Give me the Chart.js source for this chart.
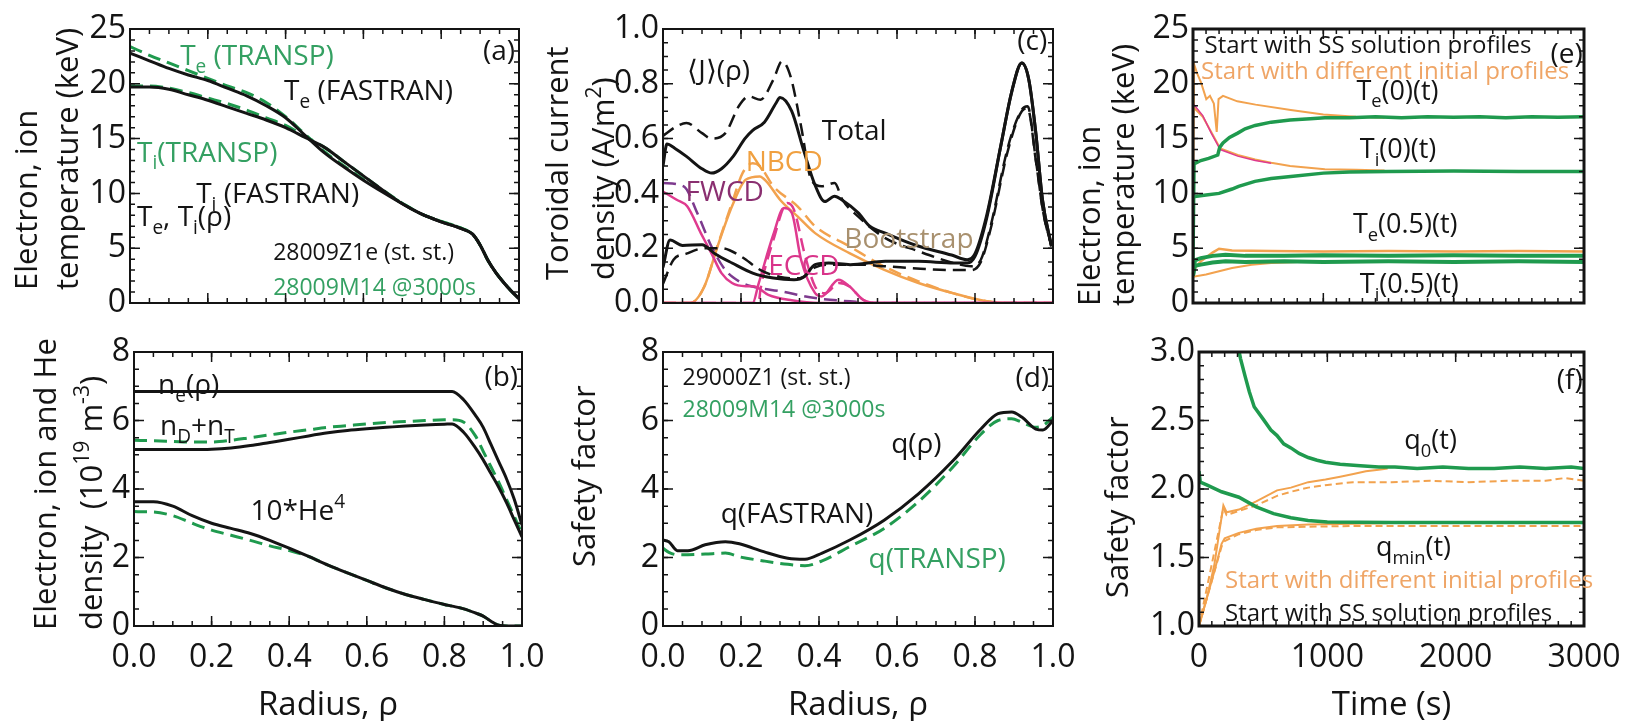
<!DOCTYPE html>
<html lang="en">
<head>
<meta charset="UTF-8">
<title>Profiles and time evolution</title>
<script src="https://cdn.jsdelivr.net/npm/chart.js"></script>
<style>
  body { margin: 0; background: #fff; width: 1627px; height: 721px; position: relative; overflow: hidden; }
  canvas { position: absolute; }
</style>
</head>
<body>
<canvas id="pa"></canvas>
<canvas id="pb"></canvas>
<canvas id="pc"></canvas>
<canvas id="pd"></canvas>
<canvas id="pe"></canvas>
<canvas id="pf"></canvas>
<script>
// ---- (a) temperatures vs radius ----
const rhoA = [0, 0.05, 0.1, 0.15, 0.2, 0.25, 0.3, 0.35, 0.4, 0.45, 0.5, 0.55, 0.6, 0.65, 0.7, 0.75, 0.8, 0.85, 0.88, 0.9, 0.92, 0.94, 0.96, 0.98, 1.0];
const teFastran = [22.8, 22.1, 21.4, 20.8, 20.3, 19.6, 18.9, 18.0, 16.9, 15.3, 13.7, 12.4, 11.2, 10.1, 9.05, 8.1, 7.4, 6.8, 6.3, 5.3, 3.9, 2.8, 1.9, 1.1, 0.4];
const tiFastran = [19.7, 19.7, 19.5, 19.0, 18.5, 17.9, 17.3, 16.7, 16.0, 15.1, 14.2, 12.9, 11.6, 10.3, 9.05, 8.1, 7.4, 6.8, 6.3, 5.3, 3.9, 2.8, 1.9, 1.1, 0.4];
const teTransp = [23.4, 22.6, 21.9, 21.2, 20.5, 19.8, 19.2, 18.3, 17.0, 15.4, 13.8, 12.5, 11.3, 10.2, 9.1, 8.1, 7.45, 6.85, 6.3, 5.3, 3.9, 2.8, 1.9, 1.1, 0.4];
const tiTransp = [19.8, 19.8, 19.6, 19.2, 18.7, 18.2, 17.6, 16.9, 16.2, 15.2, 14.2, 12.9, 11.6, 10.3, 9.1, 8.1, 7.45, 6.85, 6.3, 5.3, 3.9, 2.8, 1.9, 1.1, 0.4];

// ---- (b) densities vs radius ----
const rhoB = [0, 0.05, 0.1, 0.15, 0.2, 0.25, 0.3, 0.35, 0.4, 0.45, 0.5, 0.55, 0.6, 0.65, 0.7, 0.75, 0.8, 0.82, 0.85, 0.88, 0.9, 0.92, 0.94, 0.96, 0.98, 1.0];
const neFastran = [6.85, 6.85, 6.85, 6.85, 6.85, 6.85, 6.85, 6.85, 6.85, 6.85, 6.85, 6.85, 6.85, 6.85, 6.85, 6.85, 6.85, 6.85, 6.6, 6.15, 5.8, 5.3, 4.8, 4.3, 3.7, 2.95];
const ndtFastran = [5.15, 5.15, 5.15, 5.15, 5.16, 5.2, 5.27, 5.36, 5.45, 5.55, 5.64, 5.71, 5.76, 5.8, 5.84, 5.87, 5.89, 5.9, 5.65, 5.2, 4.85, 4.45, 4.05, 3.6, 3.1, 2.6];
const ndtTransp = [5.42, 5.41, 5.39, 5.37, 5.37, 5.42, 5.5, 5.58, 5.66, 5.73, 5.8, 5.85, 5.9, 5.94, 5.97, 6.0, 6.02, 6.02, 5.95, 5.55, 5.1, 4.65, 4.2, 3.7, 3.2, 2.7];
const heFastran = [3.63, 3.63, 3.5, 3.22, 3.0, 2.85, 2.7, 2.5, 2.27, 2.03, 1.78, 1.55, 1.33, 1.11, 0.92, 0.77, 0.63, 0.58, 0.5, 0.38, 0.29, 0.14, 0.02, 0, 0, 0];
const heTransp = [3.34, 3.33, 3.22, 3.0, 2.8, 2.65, 2.5, 2.34, 2.2, 2.03, 1.78, 1.55, 1.33, 1.11, 0.92, 0.77, 0.63, 0.58, 0.5, 0.38, 0.29, 0.14, 0.02, 0, 0, 0];

// ---- (c) current density components ----
const jTotRho = [0, 0.01, 0.03, 0.06, 0.1, 0.125, 0.15, 0.18, 0.21, 0.23, 0.26, 0.29, 0.3, 0.33, 0.36, 0.39, 0.415, 0.44, 0.46, 0.5, 0.53, 0.57, 0.65, 0.74, 0.78, 0.8, 0.83, 0.867, 0.894, 0.92, 0.938, 0.956, 0.973, 0.996];
const jTot = [0.5, 0.58, 0.565, 0.535, 0.49, 0.474, 0.49, 0.535, 0.6, 0.63, 0.66, 0.73, 0.75, 0.7, 0.56, 0.43, 0.37, 0.39, 0.375, 0.33, 0.28, 0.255, 0.21, 0.175, 0.158, 0.18, 0.32, 0.58, 0.77, 0.876, 0.815, 0.62, 0.377, 0.207];
const jTotDRho = [0, 0.035, 0.06, 0.1, 0.124, 0.16, 0.195, 0.22, 0.25, 0.283, 0.305, 0.327, 0.354, 0.38, 0.407, 0.44, 0.46, 0.5, 0.57, 0.655, 0.745, 0.79, 0.815, 0.84, 0.885, 0.92, 0.935, 0.956, 0.975, 0.996];
const jTotD = [0.61, 0.645, 0.657, 0.62, 0.6, 0.62, 0.72, 0.754, 0.742, 0.815, 0.882, 0.827, 0.645, 0.45, 0.426, 0.438, 0.377, 0.316, 0.237, 0.189, 0.146, 0.134, 0.158, 0.28, 0.572, 0.706, 0.718, 0.523, 0.33, 0.207];
const jBsRho = [0, 0.018, 0.05, 0.1, 0.133, 0.177, 0.23, 0.283, 0.336, 0.363, 0.39, 0.425, 0.48, 0.57, 0.655, 0.745, 0.78, 0.8, 0.83, 0.867, 0.894, 0.92, 0.938, 0.956, 0.973, 0.996];
const jBs = [0.13, 0.23, 0.21, 0.213, 0.18, 0.146, 0.109, 0.091, 0.085, 0.097, 0.14, 0.146, 0.14, 0.152, 0.152, 0.146, 0.146, 0.17, 0.31, 0.58, 0.77, 0.876, 0.815, 0.62, 0.377, 0.207];
const jBsDRho = [0, 0.027, 0.06, 0.106, 0.15, 0.2, 0.25, 0.3, 0.35, 0.39, 0.43, 0.5, 0.57, 0.66, 0.745, 0.79, 0.815, 0.84, 0.885, 0.92, 0.935, 0.956, 0.975, 0.996];
const jBsD = [0.07, 0.158, 0.18, 0.2, 0.2, 0.17, 0.12, 0.095, 0.09, 0.13, 0.14, 0.14, 0.134, 0.125, 0.12, 0.12, 0.15, 0.27, 0.56, 0.7, 0.71, 0.52, 0.33, 0.21];
const jNbRho = [0, 0.07, 0.106, 0.14, 0.177, 0.212, 0.248, 0.265, 0.3, 0.345, 0.39, 0.478, 0.566, 0.655, 0.743, 0.83, 0.876, 1.0];
const jNb = [0, 0, 0.06, 0.207, 0.353, 0.45, 0.462, 0.444, 0.377, 0.316, 0.255, 0.182, 0.122, 0.073, 0.036, 0.006, 0, 0];
const jNbDRho = [0, 0.07, 0.106, 0.14, 0.177, 0.204, 0.23, 0.248, 0.283, 0.345, 0.39, 0.478, 0.566, 0.655, 0.743, 0.83, 0.876, 1.0];
const jNbD = [0, 0, 0.06, 0.21, 0.365, 0.474, 0.51, 0.5, 0.426, 0.353, 0.28, 0.207, 0.134, 0.079, 0.036, 0.006, 0, 0];
const jFwRho = [0, 0.035, 0.062, 0.097, 0.124, 0.15, 0.177, 0.212, 0.235, 0.27, 0.33, 0.4, 1.0];
const jFw = [0.407, 0.377, 0.353, 0.255, 0.182, 0.109, 0.073, 0.061, 0.06, 0.03, 0.01, 0, 0];
const jFwDRho = [0, 0.053, 0.088, 0.124, 0.16, 0.195, 0.23, 0.3, 0.39, 0.48, 0.55, 1.0];
const jFwD = [0.438, 0.426, 0.328, 0.207, 0.12, 0.079, 0.06, 0.043, 0.018, 0.006, 0, 0];
const jEcRho = [0, 0.23, 0.245, 0.283, 0.31, 0.33, 0.354, 0.39, 0.407, 0.45, 0.478, 0.513, 0.55, 1.0];
const jEc = [0, 0, 0.07, 0.25, 0.347, 0.33, 0.158, 0.036, 0.024, 0.085, 0.061, 0.012, 0, 0];
const jEcDRho = [0, 0.245, 0.25, 0.283, 0.319, 0.336, 0.363, 0.39, 0.416, 0.451, 0.478, 0.513, 0.55, 1.0];
const jEcD = [0, 0, 0.05, 0.23, 0.365, 0.34, 0.18, 0.06, 0.036, 0.073, 0.06, 0.012, 0, 0];

// ---- (d) safety factor vs radius ----
const rhoD = [0, 0.015, 0.037, 0.064, 0.108, 0.16, 0.196, 0.258, 0.32, 0.364, 0.408, 0.479, 0.567, 0.655, 0.744, 0.815, 0.859, 0.894, 0.92, 0.956, 0.974, 1.0];
const qFastran = [2.51, 2.46, 2.2, 2.2, 2.37, 2.46, 2.4, 2.17, 1.98, 1.95, 2.13, 2.51, 3.09, 3.86, 4.83, 5.75, 6.2, 6.25, 6.1, 5.75, 5.72, 6.0];
const qTransp = [2.27, 2.15, 2.08, 2.08, 2.1, 2.13, 2.02, 1.9, 1.8, 1.76, 1.9, 2.32, 2.85, 3.63, 4.65, 5.6, 6.0, 6.05, 5.95, 5.8, 5.85, 6.1];

// ---- (e) temperatures vs time ----
const eTe0GreenT = [0, 8, 60, 120, 190, 205, 230, 280, 343, 400, 477, 600, 745, 900, 1012, 1200, 1400, 1600, 1800, 2000, 2200, 2400, 2600, 2800, 3000];
const eTe0Green = [4.0, 12.7, 13.0, 13.2, 13.5, 14.2, 14.6, 15.1, 15.5, 15.9, 16.2, 16.5, 16.7, 16.8, 16.9, 16.9, 17.0, 16.9, 17.0, 16.95, 17.0, 16.9, 17.0, 16.95, 17.0];
const eTi0GreenT = [0, 100, 200, 300, 350, 475, 600, 750, 1000, 1200, 1500, 2000, 2500, 3000];
const eTi0Green = [9.7, 9.85, 10.0, 10.4, 10.65, 11.1, 11.35, 11.55, 11.85, 11.95, 12.0, 12.05, 12.0, 12.0];
const eEdgeGreenT = [0, 15, 60, 150, 250, 400, 700, 1000, 1500, 2000, 2500, 3000];
const eTe05Green = [2.5, 3.9, 4.1, 4.3, 4.4, 4.3, 4.3, 4.35, 4.3, 4.35, 4.3, 4.3];
const eTi05Green = [2.5, 3.4, 3.5, 3.7, 3.8, 3.75, 3.8, 3.75, 3.8, 3.75, 3.8, 3.75];
const eTe0OrangeT = [0, 8, 30, 62, 102, 130, 160, 182, 196, 230, 340, 480, 750, 1000, 1250, 1470];
const eTe0Orange = [6.5, 21.8, 21.0, 20.1, 18.6, 18.9, 18.2, 15.6, 18.6, 18.9, 18.4, 18.1, 17.6, 17.2, 17.0, 16.9];
const eTi0OrangeT = [0, 75, 140, 209, 343, 477, 600, 745, 1012, 1250, 1470];
const eTi0Orange = [17.9, 17.0, 15.6, 14.1, 13.5, 13.1, 12.8, 12.5, 12.2, 12.15, 12.1];
const eTi0MagentaT = [0, 75, 140, 209, 343, 477, 600];
const eTi0Magenta = [18.2, 17.1, 15.5, 14.0, 13.4, 13.0, 12.75];
const eTe05OrangeT = [0, 60, 150, 200, 300, 600, 1000, 1500, 2000, 2500, 3000];
const eTe05Orange = [3.0, 3.8, 4.6, 4.95, 4.8, 4.75, 4.7, 4.75, 4.7, 4.75, 4.7];
const eTi05OrangeT = [0, 100, 200, 300, 450, 600, 800, 1100, 1470];
const eTi05Orange = [2.4, 2.6, 2.9, 3.2, 3.5, 3.65, 3.75, 3.8, 3.8];

// ---- (f) safety factor vs time ----
const fQ0GreenT = [250, 300, 324, 360, 392, 430, 500, 560, 608, 660, 716, 780, 851, 920, 986, 1100, 1257, 1400, 1527, 1700, 1900, 2100, 2300, 2500, 2700, 2900, 3000];
const fQ0Green = [3.2, 3.06, 2.95, 2.82, 2.71, 2.6, 2.51, 2.43, 2.39, 2.33, 2.3, 2.26, 2.23, 2.21, 2.195, 2.18, 2.17, 2.16, 2.16, 2.15, 2.16, 2.15, 2.15, 2.16, 2.15, 2.16, 2.15];
const fQminGreenT = [0, 10, 60, 176, 311, 446, 581, 716, 850, 1000, 1500, 2000, 2500, 3000];
const fQminGreen = [2.13, 2.05, 2.03, 1.98, 1.94, 1.87, 1.82, 1.79, 1.77, 1.76, 1.755, 1.755, 1.755, 1.755];
const fQ0OrangeT = [0, 60, 120, 190, 215, 311, 446, 608, 716, 851, 986, 1100, 1203, 1300, 1400, 1470];
const fQ0Orange = [1.0, 1.2, 1.45, 1.88, 1.83, 1.85, 1.91, 1.99, 2.01, 2.05, 2.07, 2.09, 2.11, 2.13, 2.14, 2.15];
const fQ0OrangeDT = [0, 190, 215, 311, 446, 608, 716, 851, 1000, 1200, 1500, 1800, 2100, 2400, 2700, 2850, 3000];
const fQ0OrangeD = [1.0, 1.86, 1.81, 1.84, 1.88, 1.95, 1.98, 2.01, 2.03, 2.05, 2.05, 2.06, 2.05, 2.06, 2.06, 2.08, 2.06];
const fQminOrangeT = [0, 60, 120, 176, 200, 311, 446, 608, 851, 1100, 1470];
const fQminOrange = [1.0, 1.2, 1.4, 1.6, 1.64, 1.68, 1.71, 1.73, 1.74, 1.745, 1.75];
const fQminOrangeDT = [0, 176, 200, 311, 446, 608, 851, 1200, 1600, 2000, 2400, 2800, 3000];
const fQminOrangeD = [1.0, 1.58, 1.62, 1.67, 1.7, 1.72, 1.725, 1.73, 1.73, 1.73, 1.73, 1.73, 1.73];

// ---- drawing ----
const FONT = '"Open Sans", "Noto Sans", sans-serif';
const BLACK = '#141414', GREEN = '#1f9a4e', GREEN_TXT = '#34a062', ORANGE = '#f2a24e', ORANGE_TXT = '#efa566';
const MAGENTA = '#df3a8f', PURPLE = '#7d3a8e';
const ML = 130, TP = 25, RP = 60, MB = 95;
const TICK = 32, XTITLE = 33, NOTE = 28, SMALL = 23;

Chart.defaults.font.family = FONT;

function line(xs, ys, color, extra) {
    return Object.assign({
        data: xs.map((x, i) => ({ x: x, y: ys[i] })),
        borderColor: color,
        borderWidth: 3,
        pointRadius: 0,
        fill: false,
        cubicInterpolationMode: 'monotone'
    }, extra);
}
const dashed = (w) => ({ borderDash: [13, 7], borderWidth: w || 3 });
const raw = (w) => ({ borderWidth: w, cubicInterpolationMode: 'default' });

// rich text: parts = [[text, ''|'b'|'p'], ...]
function drawRich(ctx, parts, x, y, size, color, align) {
    if (typeof parts === 'string') parts = [[parts, '']];
    const sz = k => k ? size * 0.68 : size;
    let w = 0;
    parts.forEach(([t, k]) => { ctx.font = sz(k) + 'px ' + FONT; w += ctx.measureText(t).width; });
    let cx = align === 'right' ? x - w : align === 'center' ? x - w / 2 : x;
    ctx.fillStyle = color;
    ctx.textBaseline = 'alphabetic';
    parts.forEach(([t, k]) => {
        ctx.font = sz(k) + 'px ' + FONT;
        const dy = k === 'b' ? size * 0.28 : k === 'p' ? -size * 0.42 : 0;
        ctx.fillText(t, cx, y + dy);
        cx += ctx.measureText(t).width;
    });
}

function makePanel(p) {
    const cv = document.getElementById(p.id);
    const offX = p.L - ML, offY = p.T - TP;
    cv.width = p.R - p.L + ML + RP;
    cv.height = p.B - p.T + TP + MB;
    cv.style.left = offX + 'px';
    cv.style.top = offY + 'px';

    const extras = {
        id: 'extras' + p.id,
        afterDatasetsDraw(chart) {
            const { ctx, chartArea: a, scales: { x, y } } = chart;
            ctx.save();
            // inward ticks on all four sides
            ctx.strokeStyle = BLACK;
            ctx.lineWidth = 1.5;
            const marks = (sc, step, len, horiz) => {
                const n = Math.round((sc.max - sc.min) / step);
                for (let i = 0; i <= n; i++) {
                    const q = sc.getPixelForValue(sc.min + i * step);
                    ctx.beginPath();
                    if (horiz) {
                        ctx.moveTo(q, a.bottom); ctx.lineTo(q, a.bottom - len);
                        ctx.moveTo(q, a.top); ctx.lineTo(q, a.top + len);
                    } else {
                        ctx.moveTo(a.left, q); ctx.lineTo(a.left + len, q);
                        ctx.moveTo(a.right, q); ctx.lineTo(a.right - len, q);
                    }
                    ctx.stroke();
                }
            };
            marks(x, p.xMinor, 5, true);
            marks(x, p.xStep, 10, true);
            marks(y, p.yMinor, 5, false);
            marks(y, p.yStep, 10, false);
            ctx.lineWidth = p.frame || 2;
            ctx.strokeRect(a.left, a.top, a.right - a.left, a.bottom - a.top);

            // in-plot labels
            p.notes.forEach(n => {
                drawRich(ctx, n.t, x.getPixelForValue(n.x), y.getPixelForValue(n.y),
                    n.size || NOTE, n.color || BLACK, n.align);
            });

            // axis titles (page coordinates)
            p.yTitle.forEach(l => {
                ctx.save();
                ctx.translate(l.x - offX, l.y0 - offY);
                ctx.rotate(-Math.PI / 2);
                drawRich(ctx, l.t, 0, 31 * 0.36, 31, BLACK, 'left');
                ctx.restore();
            });
            if (p.xTitle) {
                drawRich(ctx, p.xTitle, (a.left + a.right) / 2, 703 - offY + XTITLE * 0.36, XTITLE, BLACK, 'center');
            }
            ctx.restore();
        }
    };

    return new Chart(cv, {
        type: 'line',
        data: { datasets: p.datasets },
        options: {
            responsive: false,
            animation: false,
            events: [],
            layout: { padding: { left: 0, top: TP, right: RP, bottom: 0 } },
            plugins: { legend: { display: false }, tooltip: { enabled: false } },
            scales: {
                x: {
                    type: 'linear', min: p.xMin, max: p.xMax,
                    grid: { display: false, drawTicks: false },
                    border: { display: false },
                    ticks: {
                        display: !!p.xTitle, stepSize: p.xStep, autoSkip: false, maxRotation: 0,
                        padding: 13, color: BLACK, font: { size: TICK, family: FONT },
                        callback: p.xFmt
                    },
                    afterFit: s => { s.height = MB; }
                },
                y: {
                    type: 'linear', min: p.yMin, max: p.yMax,
                    grid: { display: false, drawTicks: false },
                    border: { display: false },
                    ticks: {
                        stepSize: p.yStep, autoSkip: false, padding: 4, color: BLACK,
                        font: { size: TICK, family: FONT }, callback: p.yFmt
                    },
                    afterFit: s => { s.width = ML; }
                }
            }
        },
        plugins: [extras]
    });
}

const f1 = v => v.toFixed(1);
const f0 = v => String(Math.round(v));

makePanel({
    id: 'pa', L: 130, T: 29, R: 519, B: 303,
    xMin: 0, xMax: 1, xStep: 0.2, xMinor: 0.05, xFmt: f1,
    yMin: 0, yMax: 25, yStep: 5, yMinor: 1, yFmt: f0,
    datasets: [
        line(rhoA, teFastran, BLACK),
        line(rhoA, tiFastran, BLACK),
        line(rhoA, teTransp, GREEN, dashed()),
        line(rhoA, tiTransp, GREEN, dashed())
    ],
    notes: [
        { t: [['T', ''], ['e', 'b'], [' (TRANSP)', '']], x: 0.129, y: 21.7, color: GREEN_TXT },
        { t: [['T', ''], ['e', 'b'], [' (FASTRAN)', '']], x: 0.396, y: 18.5 },
        { t: [['T', ''], ['i', 'b'], ['(TRANSP)', '']], x: 0.018, y: 12.9, color: GREEN_TXT },
        { t: [['T', ''], ['i', 'b'], [' (FASTRAN)', '']], x: 0.17, y: 9.1 },
        { t: [['T', ''], ['e', 'b'], [', T', ''], ['i', 'b'], ['(ρ)', '']], x: 0.018, y: 7.0 },
        { t: '28009Z1e (st. st.)', x: 0.368, y: 3.95, size: SMALL },
        { t: '28009M14 @3000s', x: 0.368, y: 0.76, size: SMALL, color: GREEN_TXT },
        { t: '(a)', x: 0.99, y: 22.2, align: 'right' }
    ],
    yTitle: [
        { t: 'Electron, ion', x: 26, y0: 290 },
        { t: 'temperature (keV)', x: 67, y0: 290 }
    ]
});

makePanel({
    id: 'pb', L: 134, T: 352, R: 522, B: 626,
    xMin: 0, xMax: 1, xStep: 0.2, xMinor: 0.05, xFmt: f1,
    yMin: 0, yMax: 8, yStep: 2, yMinor: 0.5, yFmt: f0,
    datasets: [
        line(rhoB, neFastran, BLACK),
        line(rhoB, ndtFastran, BLACK),
        line(rhoB, heFastran, BLACK),
        line(rhoB, ndtTransp, GREEN, dashed()),
        line(rhoB, heTransp, GREEN, dashed())
    ],
    notes: [
        { t: [['n', ''], ['e', 'b'], ['(ρ)', '']], x: 0.062, y: 6.78 },
        { t: [['n', ''], ['D', 'b'], ['+n', ''], ['T', 'b']], x: 0.067, y: 5.57 },
        { t: [['10*He', ''], ['4', 'p']], x: 0.3, y: 3.1 },
        { t: '(b)', x: 0.99, y: 7.0, align: 'right' }
    ],
    yTitle: [
        { t: 'Electron, ion and He', x: 45, y0: 630 },
        { t: [['density  (10', ''], ['19', 'p'], [' m', ''], ['-3', 'p'], [')', '']], x: 91, y0: 630 }
    ],
    xTitle: 'Radius, ρ'
});

makePanel({
    id: 'pc', L: 663, T: 29, R: 1053, B: 303,
    xMin: 0, xMax: 1, xStep: 0.2, xMinor: 0.05, xFmt: f1,
    yMin: 0, yMax: 1, yStep: 0.2, yMinor: 0.05, yFmt: f1,
    datasets: [
        line(jTotRho, jTot, BLACK),
        line(jBsRho, jBs, BLACK),
        line(jTotDRho, jTotD, BLACK, dashed(2.5)),
        line(jBsDRho, jBsD, BLACK, dashed(2.5)),
        line(jEcRho, jEc, MAGENTA, { borderWidth: 2.5 }),
        line(jFwRho, jFw, MAGENTA, { borderWidth: 2.5 }),
        line(jEcDRho, jEcD, MAGENTA, dashed(2.5)),
        line(jFwDRho, jFwD, PURPLE, dashed(2.5)),
        line(jNbRho, jNb, ORANGE, { borderWidth: 2.5 }),
        line(jNbDRho, jNbD, ORANGE, dashed(2.5))
    ],
    notes: [
        { t: '⟨J⟩(ρ)', x: 0.062, y: 0.815 },
        { t: 'Total', x: 0.407, y: 0.596 },
        { t: 'NBCD', x: 0.212, y: 0.48, color: '#f0a040' },
        { t: 'FWCD', x: 0.058, y: 0.371, color: '#8a2f70' },
        { t: 'Bootstrap', x: 0.465, y: 0.2, color: '#a8906e' },
        { t: 'ECCD', x: 0.27, y: 0.103, color: '#d9348a' },
        { t: '(c)', x: 0.985, y: 0.925, align: 'right' }
    ],
    yTitle: [
        { t: 'Toroidal current', x: 557, y0: 280 },
        { t: [['density (A/m', ''], ['2', 'p'], [')', '']], x: 603, y0: 280 }
    ]
});

makePanel({
    id: 'pd', L: 663, T: 352, R: 1053, B: 626,
    xMin: 0, xMax: 1, xStep: 0.2, xMinor: 0.05, xFmt: f1,
    yMin: 0, yMax: 8, yStep: 2, yMinor: 0.5, yFmt: f0,
    datasets: [
        line(rhoD, qFastran, BLACK),
        line(rhoD, qTransp, GREEN, dashed())
    ],
    notes: [
        { t: '29000Z1 (st. st.)', x: 0.05, y: 7.05, size: SMALL },
        { t: '28009M14 @3000s', x: 0.05, y: 6.1, size: SMALL, color: GREEN_TXT },
        { t: 'q(ρ)', x: 0.585, y: 5.05 },
        { t: 'q(FASTRAN)', x: 0.148, y: 3.0 },
        { t: 'q(TRANSP)', x: 0.527, y: 1.7, color: GREEN_TXT },
        { t: '(d)', x: 0.99, y: 6.97, align: 'right' }
    ],
    yTitle: [
        { t: 'Safety factor', x: 584, y0: 567 }
    ],
    xTitle: 'Radius, ρ'
});

makePanel({
    id: 'pe', L: 1193, T: 29, R: 1584, B: 303, frame: 3,
    xMin: 0, xMax: 3000, xStep: 1000, xMinor: 100, xFmt: f0,
    yMin: 0, yMax: 25, yStep: 5, yMinor: 1, yFmt: f0,
    datasets: [
        line(eTe0GreenT, eTe0Green, GREEN, raw(3.5)),
        line(eTi0GreenT, eTi0Green, GREEN, raw(3.5)),
        line(eEdgeGreenT, eTe05Green, GREEN, raw(4)),
        line(eEdgeGreenT, eTi05Green, GREEN, raw(4)),
        line(eTi0MagentaT, eTi0Magenta, MAGENTA, raw(1.5)),
        line(eTe0OrangeT, eTe0Orange, ORANGE, raw(2)),
        line(eTi0OrangeT, eTi0Orange, ORANGE, raw(2)),
        line(eTe05OrangeT, eTe05Orange, ORANGE, raw(2.5)),
        line(eTi05OrangeT, eTi05Orange, ORANGE, raw(2))
    ],
    notes: [
        { t: 'Start with SS solution profiles', x: 88, y: 22.8, size: 24 },
        { t: 'Start with different initial profiles', x: 62, y: 20.4, size: 24, color: ORANGE_TXT },
        { t: '(e)', x: 2990, y: 21.9, align: 'right' },
        { t: [['T', ''], ['e', 'b'], ['(0)(t)', '']], x: 1254, y: 18.55, size: 27 },
        { t: [['T', ''], ['i', 'b'], ['(0)(t)', '']], x: 1280, y: 13.2, size: 27 },
        { t: [['T', ''], ['e', 'b'], ['(0.5)(t)', '']], x: 1227, y: 6.39, size: 27 },
        { t: [['T', ''], ['i', 'b'], ['(0.5)(t)', '']], x: 1280, y: 0.9, size: 27 }
    ],
    yTitle: [
        { t: 'Electron, ion', x: 1089, y0: 306 },
        { t: 'temperature (keV)', x: 1123, y0: 306 }
    ]
});

makePanel({
    id: 'pf', L: 1199, T: 352, R: 1584, B: 626, frame: 3,
    xMin: 0, xMax: 3000, xStep: 1000, xMinor: 100, xFmt: f0,
    yMin: 1, yMax: 3, yStep: 0.5, yMinor: 0.1, yFmt: f1,
    datasets: [
        line(fQ0GreenT, fQ0Green, GREEN, raw(3.5)),
        line(fQminGreenT, fQminGreen, GREEN, raw(3.5)),
        line(fQ0OrangeT, fQ0Orange, ORANGE, raw(2)),
        line(fQ0OrangeDT, fQ0OrangeD, ORANGE, { borderWidth: 2, borderDash: [7, 4], cubicInterpolationMode: 'default' }),
        line(fQminOrangeT, fQminOrange, ORANGE, raw(2)),
        line(fQminOrangeDT, fQminOrangeD, ORANGE, { borderWidth: 2, borderDash: [7, 4], cubicInterpolationMode: 'default' })
    ],
    notes: [
        { t: '(f)', x: 2990, y: 2.73, align: 'right' },
        { t: [['q', ''], ['0', 'b'], ['(t)', '']], x: 1600, y: 2.29, size: 27 },
        { t: [['q', ''], ['min', 'b'], ['(t)', '']], x: 1380, y: 1.51, size: 27 },
        { t: 'Start with different initial profiles', x: 203, y: 1.28, size: 24, color: ORANGE_TXT },
        { t: 'Start with SS solution profiles', x: 203, y: 1.04, size: 24 }
    ],
    yTitle: [
        { t: 'Safety factor', x: 1117, y0: 598 }
    ],
    xTitle: 'Time (s)'
});
</script>
</body>
</html>
